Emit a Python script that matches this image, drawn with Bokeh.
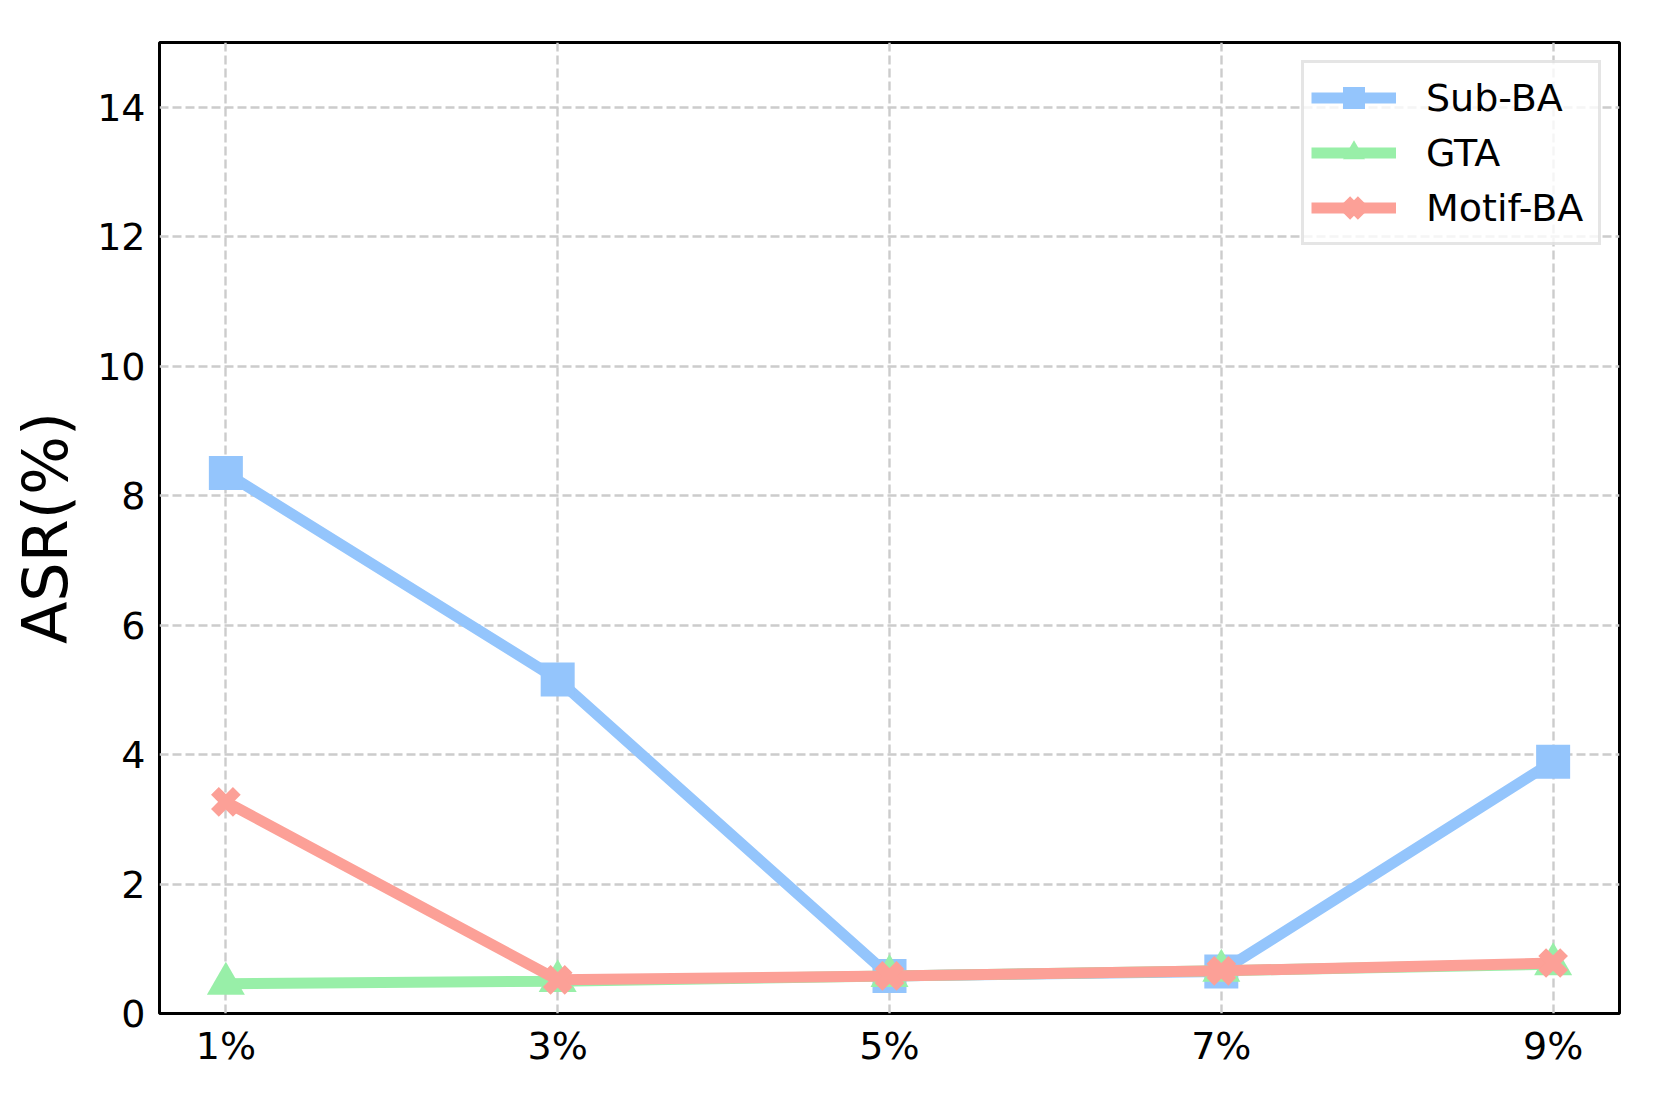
from bokeh.plotting import figure
from bokeh.models import Legend, LegendItem, FixedTicker, Range1d
from bokeh.embed import file_html
from bokeh.resources import INLINE

x_labels = ["1%", "3%", "5%", "7%", "9%"]
x_pos = [1, 3, 5, 7, 9]
sub_ba = [8.35, 5.16, 0.58, 0.65, 3.89]
gta = [0.46, 0.50, 0.58, 0.66, 0.76]
motif_ba = [3.27, 0.52, 0.58, 0.66, 0.78]
y_ticks = [0, 2, 4, 6, 8, 10, 12, 14]

c_blue = "#94C5FC"
c_green = "#98EFA8"
c_red = "#FCA097"
FONT = "DejaVu Sans"

p = figure(width=1655, height=1100, output_backend="svg", toolbar_location=None,
           x_range=Range1d(0.6, 9.4), y_range=Range1d(0, 15),
           min_border_left=159, min_border_right=36, min_border_top=42, min_border_bottom=87)

p.outline_line_color = "black"
p.outline_line_width = 3
p.outline_line_alpha = 1

for ax in (p.xaxis[0], p.yaxis[0]):
    ax.axis_line_color = None
    ax.major_tick_line_color = None
    ax.minor_tick_line_color = None
    ax.major_tick_out = 0
    ax.major_tick_in = 0
    ax.minor_tick_out = 0
    ax.major_label_text_font = FONT
    ax.major_label_text_font_size = "38px"
    ax.major_label_text_color = "black"

p.xaxis[0].ticker = FixedTicker(ticks=x_pos)
p.xaxis[0].major_label_overrides = {x: l for x, l in zip(x_pos, x_labels)}
p.xaxis[0].major_label_standoff = 10
p.yaxis[0].ticker = FixedTicker(ticks=y_ticks)
p.yaxis[0].major_label_standoff = 14
p.yaxis[0].axis_label = "ASR(%)"
p.yaxis[0].axis_label_text_font = FONT
p.yaxis[0].axis_label_text_font_size = "62px"
p.yaxis[0].axis_label_text_font_style = "normal"
p.yaxis[0].axis_label_text_color = "black"
p.yaxis[0].axis_label_standoff = 12

p.xgrid[0].ticker = FixedTicker(ticks=x_pos)
p.ygrid[0].ticker = FixedTicker(ticks=y_ticks)
for g in (p.xgrid[0], p.ygrid[0]):
    g.grid_line_color = "#cccccc"
    g.grid_line_width = 2.4
    g.grid_line_dash = "9 4"

lw = 11
l1 = p.line(x_pos, sub_ba, line_color=c_blue, line_width=lw)
s1 = p.scatter(x_pos, sub_ba, marker="square", size=34, fill_color=c_blue, line_color=c_blue, line_width=0)
l2 = p.line(x_pos, gta, line_color=c_green, line_width=lw)
s2 = p.scatter(x_pos, gta, marker="triangle", size=38, fill_color=c_green, line_color=c_green, line_width=0)
l3 = p.line(x_pos, motif_ba, line_color=c_red, line_width=lw)
s3 = p.scatter(x_pos, motif_ba, marker="x", size=31, line_color=c_red, line_width=11)

legend = Legend(items=[
    LegendItem(label="Sub-BA", renderers=[l1, s1]),
    LegendItem(label="GTA", renderers=[l2, s2]),
    LegendItem(label="Motif-BA", renderers=[l3, s3]),
], location="top_right")
legend.label_text_font = FONT
legend.label_text_font_size = "38px"
legend.label_text_color = "black"
legend.glyph_width = 85
legend.glyph_height = 55
legend.label_height = 55
legend.label_width = 165
legend.label_standoff = 30
legend.spacing = 0
legend.padding = 7
legend.margin = 18
legend.border_line_color = "#cccccc"
legend.border_line_width = 3
legend.background_fill_color = "white"
legend.background_fill_alpha = 0.8
p.add_layout(legend)

open("out.html", "w").write(file_html(p, INLINE))
